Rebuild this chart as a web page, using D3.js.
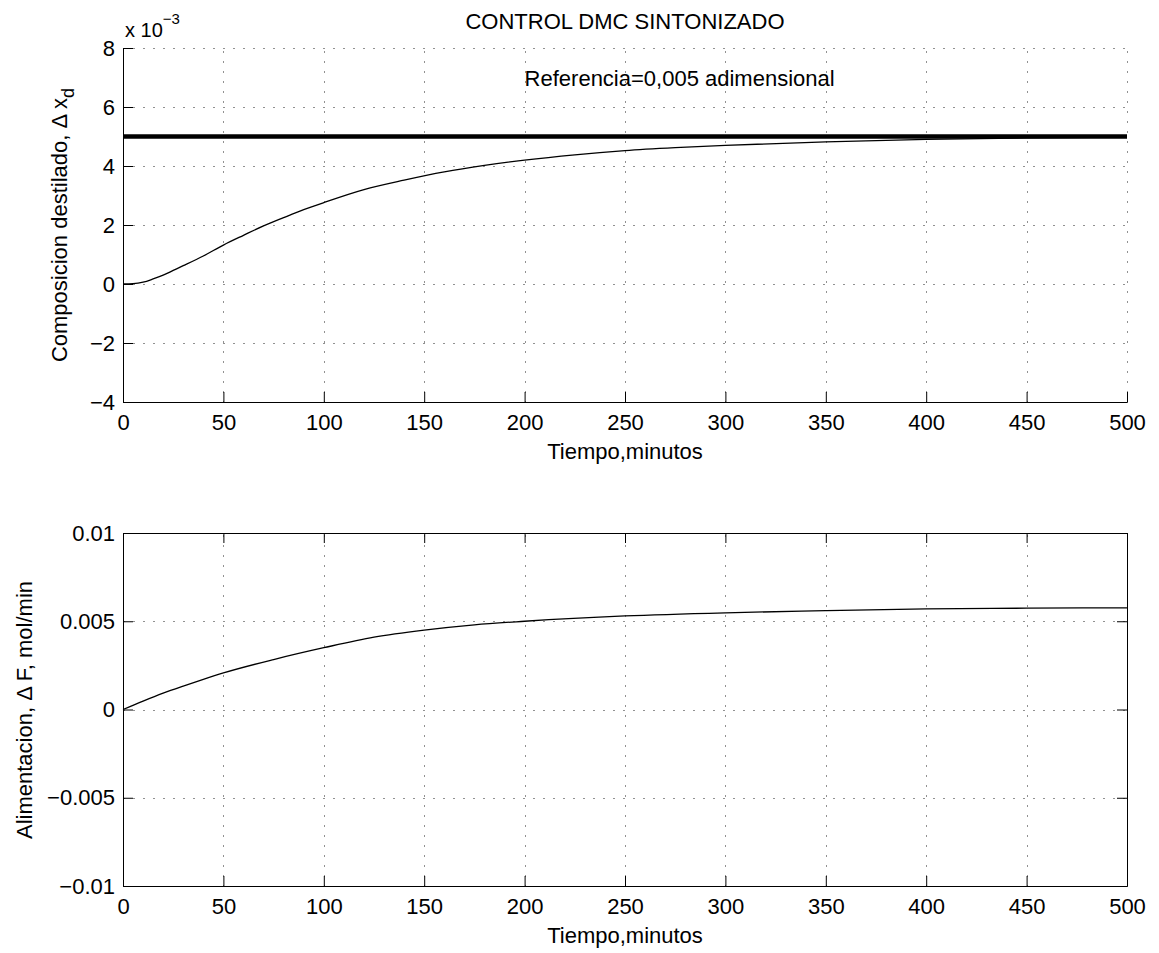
<!DOCTYPE html>
<html lang="en">
    <head>
        <meta charset="utf-8"/>
        <script src="https://d3js.org/d3.v7.min.js"></script>
        <style>
            body { margin: 0; background: #fff; }
            svg text { font-family: "Liberation Sans", Arial, Helvetica, sans-serif; fill: #000; }
        </style>
    </head>
    <body>
        <div id="chart"></div>
    </body>
    <script>
        // datos
        var timeTicks = [0, 50, 100, 150, 200, 250, 300, 350, 400, 450, 500];

        // composicion del destilado (en unidades de 1e-3)
        var xdTime  = [0, 5, 10, 15, 20, 25, 30, 40, 50, 60, 70, 80, 90, 100, 120, 140, 160, 180, 200, 225, 250, 275, 300, 350, 400, 450, 500];
        var xdValue = [0, 0.01, 0.06, 0.17, 0.3, 0.46, 0.62, 0.95, 1.32, 1.65, 1.97, 2.25, 2.52, 2.76, 3.2, 3.52, 3.8, 4.02, 4.2, 4.38, 4.52, 4.62, 4.7, 4.82, 4.9, 4.95, 4.98];
        var refTime  = [0, 500];
        var refValue = [5, 5];
        var xdTicks = [-4, -2, 0, 2, 4, 6, 8];

        // alimentacion
        var fTime  = [0, 10, 20, 30, 40, 50, 75, 100, 125, 150, 175, 200, 250, 300, 350, 400, 450, 500];
        var fValue = [0, 0.00048, 0.00093, 0.00133, 0.00171, 0.00207, 0.00283, 0.0035, 0.0041, 0.0045, 0.0048, 0.005, 0.0053, 0.00548, 0.0056, 0.0057, 0.00574, 0.00576];
        var fTicks = [-0.01, -0.005, 0, 0.005, 0.01];

        var width = 1159, height = 953;
        var left = 123, right = 1127;
        var fs = 22;

        var svg = d3.select("#chart")
            .append("svg")
                .attr("width", width)
                .attr("height", height);

        function minusFmt(d) {
            return (d < 0 ? "\u2212" : "") + Math.abs(d);
        }

        function panel(top, bottom, yTicks, boxOn) {
            var g = svg.append("g");
            var x = d3.scaleLinear().domain([0, 500]).range([left, right]);
            var y = d3.scaleLinear().domain([yTicks[0], yTicks[yTicks.length - 1]]).range([bottom, top]);

            // rejilla punteada
            g.append("g").selectAll("line.v")
                .data(timeTicks)
                .enter().append("line")
                    .attr("x1", function (d) { return Math.round(x(d)) + 0.5; })
                    .attr("x2", function (d) { return Math.round(x(d)) + 0.5; })
                    .attr("y1", bottom + 0.5)
                    .attr("y2", top + 0.5)
                    .attr("stroke", "#222")
                    .attr("stroke-dasharray", "1,9");
            g.append("g").selectAll("line.h")
                .data(yTicks)
                .enter().append("line")
                    .attr("y1", function (d) { return Math.round(y(d)) + 0.5; })
                    .attr("y2", function (d) { return Math.round(y(d)) + 0.5; })
                    .attr("x1", left + 0.5)
                    .attr("x2", right + 0.5)
                    .attr("stroke", "#222")
                    .attr("stroke-dasharray", "1,9");

            var xAxis = g.append("g")
                .attr("transform", "translate(0," + bottom + ")")
                .call(d3.axisBottom(x).tickValues(timeTicks).tickSizeInner(-10).tickSizeOuter(0).tickPadding(12));
            var yAxis = g.append("g")
                .attr("transform", "translate(" + left + ",0)")
                .call(d3.axisLeft(y).tickValues(yTicks).tickFormat(minusFmt).tickSizeInner(-10).tickSizeOuter(0).tickPadding(8));

            if (boxOn) {
                g.append("g")
                    .attr("transform", "translate(0," + top + ")")
                    .call(d3.axisTop(x).tickValues(timeTicks).tickSizeInner(-10).tickSizeOuter(0).tickFormat(""));
                g.append("g")
                    .attr("transform", "translate(" + right + ",0)")
                    .call(d3.axisRight(y).tickValues(yTicks).tickSizeInner(-10).tickSizeOuter(0).tickFormat(""));
            }

            g.selectAll(".domain, .tick line").attr("stroke", "#000");
            g.selectAll(".tick text")
                .style("font-size", fs + "px")
                .style("font-family", "'Liberation Sans', Arial, sans-serif")
                .attr("fill", "#000");

            g.append("text")
                .attr("x", (left + right) / 2)
                .attr("y", bottom + 57)
                .attr("text-anchor", "middle")
                .style("font-size", fs + "px")
                .text("Tiempo,minutos");

            return {g: g, x: x, y: y};
        }

        // ---- grafico superior ----
        var p1 = panel(48, 402, xdTicks, false);

        var line1 = d3.line()
            .x(function (d) { return p1.x(d[0]); })
            .y(function (d) { return p1.y(d[1]); })
            .curve(d3.curveMonotoneX);

        p1.g.append("path")
            .datum(d3.zip(refTime, refValue))
            .attr("d", line1)
            .attr("fill", "none")
            .attr("stroke", "#000")
            .attr("stroke-width", 4.5);

        p1.g.append("path")
            .datum(d3.zip(xdTime, xdValue))
            .attr("d", line1)
            .attr("fill", "none")
            .attr("stroke", "#000")
            .attr("stroke-width", 1.3);

        p1.g.append("text")
            .attr("x", p1.x(200))
            .attr("y", p1.y(7))
            .attr("dy", "0.4em")
            .style("font-size", fs + "px")
            .text("Referencia=0,005 adimensional");

        svg.append("text")
            .attr("x", (left + right) / 2)
            .attr("y", 29)
            .attr("text-anchor", "middle")
            .style("font-size", fs + "px")
            .text("CONTROL DMC SINTONIZADO");

        var exp = svg.append("text")
            .attr("x", 125)
            .attr("y", 37)
            .style("font-size", "20px");
        exp.append("tspan").text("x 10");
        exp.append("tspan").attr("dy", -13).style("font-size", "15px").text("\u22123");

        var yl1 = svg.append("text")
            .attr("transform", "translate(67,225) rotate(-90)")
            .attr("text-anchor", "middle")
            .style("font-size", fs + "px");
        yl1.append("tspan").text("Composicion destilado, \u0394 x");
        yl1.append("tspan").attr("dy", 7).style("font-size", "18px").text("d");

        // ---- grafico inferior ----
        var p2 = panel(533, 886, fTicks, true);

        var line2 = d3.line()
            .x(function (d) { return p2.x(d[0]); })
            .y(function (d) { return p2.y(d[1]); })
            .curve(d3.curveMonotoneX);

        p2.g.append("path")
            .datum(d3.zip(fTime, fValue))
            .attr("d", line2)
            .attr("fill", "none")
            .attr("stroke", "#000")
            .attr("stroke-width", 1.3);

        svg.append("text")
            .attr("transform", "translate(32,710) rotate(-90)")
            .attr("text-anchor", "middle")
            .style("font-size", fs + "px")
            .text("Alimentacion, \u0394 F, mol/min");
    </script>
</html>
